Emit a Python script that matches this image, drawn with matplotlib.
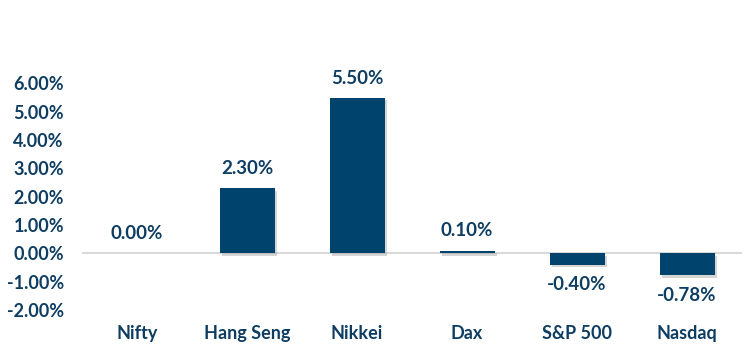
import matplotlib.pyplot as plt
import matplotlib.patheffects as pe
from matplotlib.ticker import FuncFormatter

indices = ["Nifty", "Hang Seng", "Nikkei", "Dax", "S&P 500", "Nasdaq"]
returns = [0.00, 2.30, 5.50, 0.10, -0.40, -0.78]
y_ticks = [-2, -1, 0, 1, 2, 3, 4, 5, 6]

bar_color = "#00446E"
text_color = "#0E3D62"

plt.rcParams["font.family"] = ["Lato", "DejaVu Sans"]
plt.rcParams["font.weight"] = "bold"

fig = plt.figure(figsize=(7.55, 3.51), dpi=100)
ax = fig.add_axes([82 / 755, 41 / 351, 660 / 755, 0.726])

x = range(len(indices))
bars = ax.bar(x, returns, width=0.5, color=bar_color, zorder=3)
for b in bars:
    b.set_path_effects([pe.SimplePatchShadow(offset=(2, -2), shadow_rgbFace="#888888", alpha=0.35), pe.Normal()])

ax.axhline(0, color="#D9D9D9", lw=1.5, zorder=2)

# data labels
for i, v in enumerate(returns):
    if v >= 0:
        ax.annotate(f"{v:.2f}%", (i, v), xytext=(0, 8), textcoords="offset points",
                    ha="center", va="bottom", fontsize=13.5, fontweight="bold", color=text_color)
    else:
        ax.annotate(f"{v:.2f}%", (i, v), xytext=(0, -8), textcoords="offset points",
                    ha="center", va="top", fontsize=13.5, fontweight="bold", color=text_color)

ax.set_xlim(-0.5, len(indices) - 0.5)
ax.set_ylim(-2, 7)
ax.set_yticks(y_ticks)
ax.yaxis.set_major_formatter(FuncFormatter(lambda v, p: f"{v:.2f}%"))
ax.set_xticks(list(x))
ax.set_xticklabels(indices)

for s in ax.spines.values():
    s.set_visible(False)
ax.tick_params(axis="y", length=0, pad=13, labelsize=13, labelcolor=text_color)
ax.tick_params(axis="x", length=0, pad=11, labelsize=13, labelcolor=text_color)
for lbl in ax.get_xticklabels() + ax.get_yticklabels():
    lbl.set_fontweight("bold")

fig.savefig("out.png", dpi=100)
